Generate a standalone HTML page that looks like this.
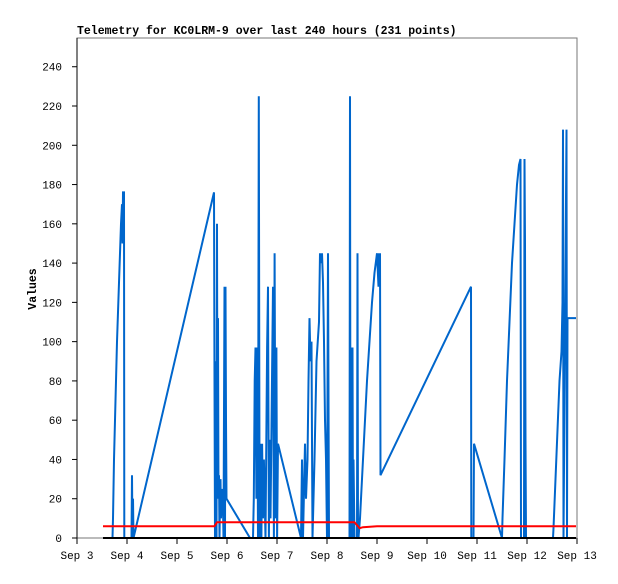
<!DOCTYPE html>
<html><head><meta charset="utf-8"><style>
body{margin:0;background:#fff;}
svg text{font-family:"Liberation Mono","DejaVu Sans Mono",monospace;}
</style></head><body>
<svg id="chart" width="618" height="579" xmlns="http://www.w3.org/2000/svg">
<rect width="618" height="579" fill="#fff"/>
<text x="77" y="34" font-size="11.5" font-weight="bold">Telemetry for KC0LRM-9 over last 240 hours (231 points)</text>
<rect x="77" y="38" width="500" height="500" fill="none" stroke="#777" stroke-width="1"/>
<text transform="translate(36,289) rotate(-90)" text-anchor="middle" font-size="11.5" font-weight="bold">Values</text>
<g id="axes"></g><g id="series"></g>
</svg>
<script>
const yTicks=[0,20,40,60,80,100,120,140,160,180,200,220,240];
const xTicks=[3,4,5,6,7,8,9,10,11,12,13];
const blueDays=[
3.71,3.72,3.74,3.76,3.78,3.80,3.82,3.84,3.86,3.88,3.90,3.91,3.92,3.94,3.945,
4.09,4.10,4.11,4.12,4.13,5.74,
5.75,5.76,5.77,5.78,5.79,5.80,5.81,5.82,5.83,5.84,5.85,5.86,5.87,5.88,5.90,5.92,5.93,5.95,5.96,5.97,5.98,5.99,6.46,
6.52,6.537,6.553,6.57,6.587,6.603,6.62,6.637,6.653,6.67,6.687,6.703,6.72,6.737,6.77,6.803,6.82,6.837,6.853,6.87,6.92,6.937,6.953,6.97,6.987,7.003,7.02,7.48,
7.50,7.52,7.56,7.58,7.61,7.63,7.65,7.67,7.69,7.71,7.75,7.79,7.84,7.86,7.88,7.90,7.92,7.94,7.96,7.98,8.00,8.02,8.04,8.45,
8.46,8.47,8.48,8.49,8.50,8.51,8.52,8.53,8.55,8.60,8.61,8.62,8.63,
8.66,8.70,8.75,8.80,8.85,8.90,8.95,9.00,9.03,9.04,9.05,9.06,9.07,
10.88,10.885,10.93,10.94,11.50,
11.51,11.55,11.60,11.65,11.70,11.75,11.80,11.84,11.87,11.88,11.94,11.95,11.96,11.97,11.98,
12.52,12.53,12.57,12.61,12.65,12.69,12.71,12.72,12.73,12.79,12.80,12.81,12.98];
const blueVals=[
0,10,40,60,80,100,115,130,145,160,170,150,176,176,0,
0,32,0,20,0,176,
80,0,90,60,0,160,30,112,20,32,0,20,30,10,25,15,0,128,0,128,60,20,0,
0,20,80,97,20,97,0,225,0,48,0,48,10,40,0,97,128,0,50,10,128,0,145,10,97,0,48,0,
40,0,48,20,40,80,112,90,100,0,40,90,110,145,140,145,130,100,60,40,0,145,0,0,
225,0,97,0,20,97,0,40,0,0,145,0,0,
10,30,55,80,100,120,135,145,128,145,128,145,32,
128,0,0,48,0,
10,40,80,110,140,160,180,190,193,0,0,193,150,50,0,
0,5,30,55,80,95,120,208,0,208,0,112,112];
const redDays=[3.52,5.75,5.8,8.55,8.62,8.65,8.72,9.0,12.98];
const redVals=[6,6,8,8,6,5,5.5,6,6];
const blackDays=[3.52,12.98];
const blackVals=[0,0];
const NS="http://www.w3.org/2000/svg";
const X=d=>77+(d-3)*50;
const Y=v=>538-v*1.9636;
const axes=document.getElementById('axes'),ser=document.getElementById('series');
function mk(tag,attrs,parent){const e=document.createElementNS(NS,tag);for(const k in attrs)e.setAttribute(k,attrs[k]);parent.appendChild(e);return e;}
mk('line',{x1:77,y1:38,x2:77,y2:538,stroke:'#000','stroke-width':1},axes);
yTicks.forEach(v=>{
  const t=mk('line',{x1:72,y1:Y(v),x2:77,y2:Y(v),stroke:'#000'},axes);
  
  
  const l=mk('text',{x:62,y:Y(v)+4,'text-anchor':'end','font-size':'11'},axes);
  l.textContent=v;
  
  
});
xTicks.forEach(d=>{
  const t=mk('line',{x1:X(d),y1:538,x2:X(d),y2:544,stroke:'#000'},axes);
  
  
  const l=mk('text',{x:X(d),y:559,'text-anchor':'middle','font-size':'11'},axes);
  l.textContent='Sep '+d;
  
  
});
function line(days,vals,color,w,name){
  const n=Math.min(days.length,vals.length);
  const pts=[];
  for(let i=0;i<n;i++)pts.push(X(days[i]).toFixed(1)+','+Y(vals[i]).toFixed(1));
  const e=mk('polyline',{points:pts.join(' '),fill:'none',stroke:color,'stroke-width':w,'stroke-linejoin':'miter'},ser);
  
  
}
line(blueDays,blueVals,'#0066cc',2,'blue-series-line');
line(redDays,redVals,'#ff0000',2,'red-series-line');
line(blackDays,blackVals,'#000',2,'black-series-line');
</script>
</body></html>
